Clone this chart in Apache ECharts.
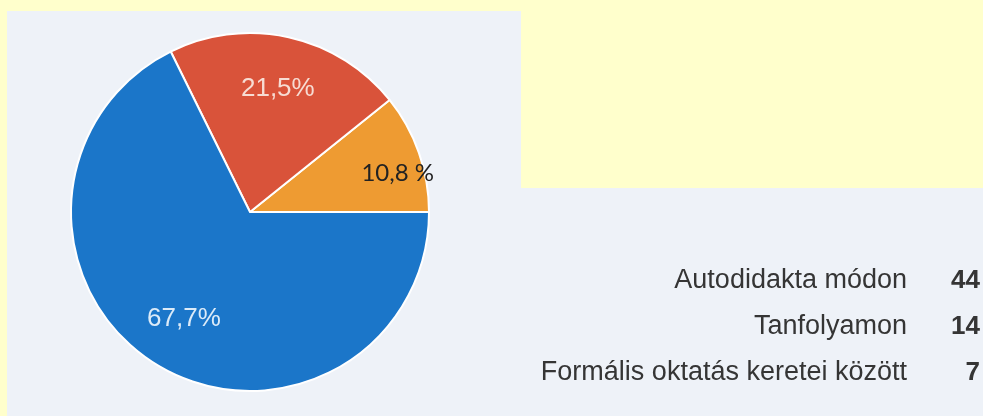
<!DOCTYPE html>
<html>
<head>
<meta charset="utf-8">
<script src="https://cdn.jsdelivr.net/npm/echarts@6/dist/echarts.min.js"></script>
<style>
  html, body { margin: 0; padding: 0; background: #ffffcc; }
  #pieChart { width: 983px; height: 416px; }
</style>
</head>
<body>
<div id="pieChart"></div>
<script>
// pie order (counter-clockwise from 3 o'clock)
const categories = ['Formális oktatás keretei között', 'Tanfolyamon', 'Autodidakta módon']
const counts = [7, 14, 44]
const pctLabels = ['10,8 %', '21,5%', '67,7%']
const sliceColors = ['#ee9b32', '#d9533a', '#1b76c9']
// legend order as in the picture
const legendOrder = ['Autodidakta módon', 'Tanfolyamon', 'Formális oktatás keretei között']

const myChart = echarts.init(document.getElementById('pieChart'))

const pieData = categories.map((name, i) => ({
  name: name,
  value: counts[i],
  itemStyle: { color: sliceColors[i] }
}))

const labelStyles = [
  { color: '#222', fontFamily: 'Lato', fontSize: 24, offset: [26, 4] },
  { color: '#f7dcd3', fontFamily: 'Liberation Sans', fontSize: 26, offset: [0, 3] },
  { color: '#dcebf8', fontFamily: 'Liberation Sans', fontSize: 26, offset: [2, -3] }
]

const labelData = categories.map((name, i) => ({
  name: name,
  value: counts[i],
  label: Object.assign({ show: true, position: 'inside', formatter: pctLabels[i] }, labelStyles[i])
}))

const options = {
  backgroundColor: '#ffffcc',
  animation: false,
  graphic: [
    { type: 'rect', z: -10, silent: true, shape: { x: 7, y: 11, width: 514, height: 405 }, style: { fill: '#eef2f8' } },
    { type: 'rect', z: -10, silent: true, shape: { x: 521, y: 188, width: 462, height: 228 }, style: { fill: '#eef2f8' } }
  ],
  legend: {
    orient: 'vertical',
    right: 3,
    top: 266,
    padding: 0,
    icon: 'none',
    itemWidth: 0,
    itemHeight: 30,
    itemGap: 17.5,
    selectedMode: false,
    data: legendOrder,
    formatter: function (name) {
      return '{n|' + name + '}{v|' + counts[categories.indexOf(name)] + '}'
    },
    textStyle: {
      rich: {
        n: { width: 400, align: 'right', fontSize: 27, lineHeight: 30, color: '#353535', fontFamily: 'Liberation Sans' },
        v: { width: 73, align: 'right', fontSize: 26, lineHeight: 30, color: '#353535', fontWeight: 'bold', fontFamily: 'Liberation Sans' }
      }
    }
  },
  series: [
    {
      name: 'pie',
      type: 'pie',
      center: [250, 212],
      radius: [0, 179],
      startAngle: 0,
      clockwise: false,
      label: { show: false },
      labelLine: { show: false },
      itemStyle: { borderColor: '#ffffff', borderWidth: 2 },
      data: pieData
    },
    {
      // transparent ring only used to place the percentage labels
      name: 'labels',
      type: 'pie',
      center: [250, 212],
      radius: [72, 180],
      startAngle: 0,
      clockwise: false,
      silent: true,
      z: 5,
      itemStyle: { color: 'transparent', borderWidth: 0 },
      labelLine: { show: false },
      data: labelData
    }
  ]
}
myChart.setOption(options)
</script>
</body>
</html>
